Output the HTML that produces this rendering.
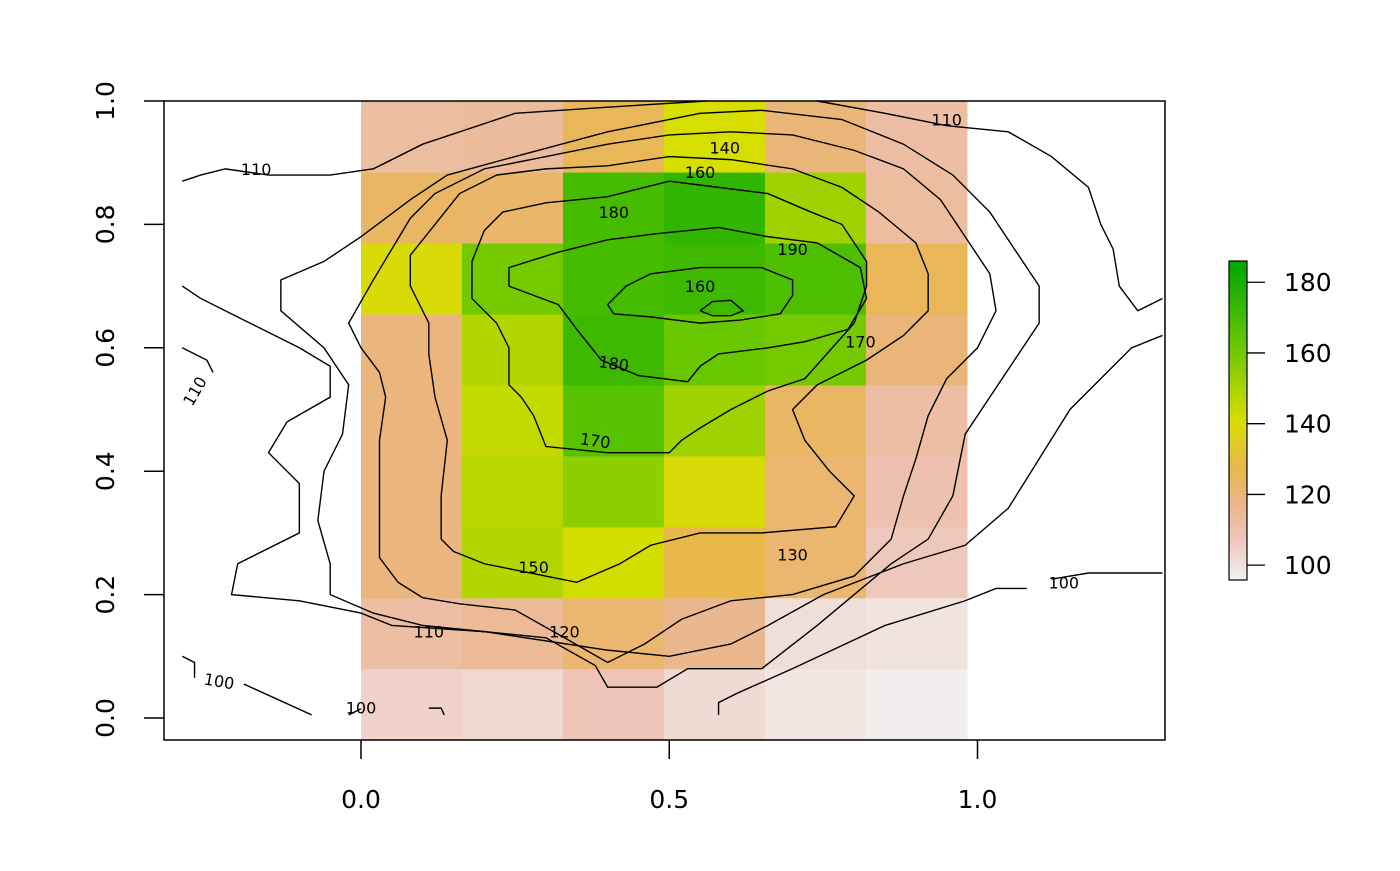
<!DOCTYPE html>
<html><head><meta charset="utf-8"><style>
body{margin:0;background:#fff}
svg text{font-family:"DejaVu Sans","Liberation Sans",sans-serif}
</style></head><body>
<svg id="chart" width="1400" height="866" viewBox="0 0 1400 866" xmlns="http://www.w3.org/2000/svg">
<g id="cells"></g>
<g id="contours"></g>
<g id="clabels"></g>
<rect x="164" y="101" width="1001" height="639" fill="none" stroke="#000" stroke-width="1.5"/>
<g id="axes"></g>
<g id="legend"></g>
</svg>
<script>
const xEdges=[0,0.1638,0.3276,0.4914,0.6552,0.819,0.983];
const yEdges=[-0.036,0.079,0.194,0.309,0.424,0.539,0.654,0.769,0.884,1.0];
// rows listed top (y=1) to bottom
const heatValues=[
[113,114,126,141,121,112],
[124,123,170,175,152,113],
[140,160,170,172,168,126],
[120,148,172,162,160,121],
[120,145,166,152,124,112],
[120,147,155,140,122,110],
[120,148,142,128,122,107],
[112,115,122,117,101,100],
[104,103,108,102,99,97]];
const xTicks=[0,0.5,1];
const xTickLabels=["0.0","0.5","1.0"];
const yTicks=[0,0.2,0.4,0.6,0.8,1];
const yTickLabels=["0.0","0.2","0.4","0.6","0.8","1.0"];
const legendTicks=[100,120,140,160,180];
const legendMin=95.8, legendMax=186;
const contourLines=[
[[0.55,0.66],[0.57,0.675],[0.60,0.677],[0.62,0.66],[0.60,0.652],[0.57,0.652],[0.55,0.66]],
[[0.40,0.67],[0.43,0.70],[0.47,0.72],[0.55,0.73],[0.65,0.73],[0.70,0.71],[0.70,0.685],[0.68,0.655],[0.615,0.645],[0.55,0.64],[0.47,0.65],[0.41,0.655],[0.40,0.67]],
[[0.24,0.70],[0.24,0.73],[0.32,0.755],[0.40,0.775],[0.48,0.785],[0.58,0.795],[0.66,0.78],[0.74,0.77],[0.81,0.73],[0.82,0.68],[0.79,0.63],[0.72,0.61],[0.66,0.60],[0.58,0.59],[0.55,0.57],[0.53,0.545],[0.45,0.555],[0.39,0.58],[0.35,0.63],[0.32,0.67],[0.24,0.70]],
[[0.24,0.60],[0.22,0.64],[0.18,0.68],[0.18,0.74],[0.20,0.79],[0.23,0.82],[0.30,0.835],[0.40,0.845],[0.50,0.87],[0.58,0.86],[0.66,0.85],[0.73,0.82],[0.78,0.80],[0.82,0.74],[0.82,0.70],[0.80,0.64],[0.72,0.55],[0.66,0.53],[0.60,0.50],[0.55,0.47],[0.52,0.45],[0.50,0.43],[0.45,0.43],[0.40,0.43],[0.30,0.44],[0.28,0.49],[0.26,0.52],[0.24,0.54],[0.24,0.60]],
[[0.13,0.29],[0.13,0.36],[0.14,0.45],[0.12,0.52],[0.11,0.59],[0.11,0.64],[0.08,0.70],[0.08,0.75],[0.12,0.80],[0.16,0.85],[0.22,0.88],[0.30,0.89],[0.40,0.895],[0.50,0.91],[0.60,0.905],[0.70,0.89],[0.78,0.86],[0.84,0.82],[0.90,0.77],[0.92,0.72],[0.92,0.66],[0.88,0.62],[0.82,0.58],[0.74,0.54],[0.70,0.50],[0.72,0.45],[0.76,0.40],[0.80,0.36],[0.77,0.31],[0.65,0.30],[0.55,0.30],[0.47,0.28],[0.42,0.25],[0.35,0.22],[0.25,0.24],[0.20,0.25],[0.15,0.27],[0.13,0.29]],
[[0.06,0.22],[0.03,0.26],[0.03,0.35],[0.03,0.45],[0.04,0.52],[0.03,0.56],[0.00,0.60],[-0.02,0.64],[0.02,0.71],[0.05,0.76],[0.08,0.81],[0.12,0.85],[0.20,0.89],[0.30,0.91],[0.40,0.93],[0.50,0.945],[0.60,0.95],[0.70,0.945],[0.80,0.92],[0.88,0.89],[0.94,0.84],[0.98,0.78],[1.02,0.72],[1.03,0.66],[1.00,0.60],[0.95,0.55],[0.92,0.49],[0.90,0.42],[0.88,0.36],[0.86,0.29],[0.80,0.23],[0.70,0.20],[0.60,0.19],[0.52,0.16],[0.46,0.12],[0.40,0.09],[0.33,0.13],[0.25,0.175],[0.16,0.185],[0.10,0.195],[0.06,0.22]],
[[-0.05,0.25],[-0.07,0.32],[-0.06,0.40],[-0.03,0.46],[-0.02,0.54],[-0.06,0.60],[-0.13,0.66],[-0.13,0.71],[-0.06,0.74],[0.00,0.78],[0.08,0.84],[0.14,0.88],[0.25,0.91],[0.40,0.95],[0.55,0.98],[0.65,0.985],[0.78,0.97],[0.88,0.93],[0.96,0.88],[1.02,0.82],[1.06,0.76],[1.10,0.70],[1.10,0.64],[1.06,0.58],[1.02,0.52],[0.98,0.46],[0.96,0.36],[0.92,0.29],[0.86,0.25],[0.80,0.20],[0.74,0.15],[0.65,0.08],[0.53,0.08],[0.48,0.05],[0.40,0.05],[0.38,0.085],[0.30,0.13],[0.20,0.14],[0.10,0.15],[0.02,0.17],[-0.05,0.20],[-0.05,0.25]],
[[-0.29,0.87],[-0.26,0.88],[-0.22,0.89],[-0.15,0.88],[-0.05,0.88],[0.02,0.89],[0.10,0.93],[0.25,0.98],[0.40,0.99],[0.56,1.0]],
[[0.74,1.0],[0.85,0.98],[0.95,0.96],[1.05,0.95],[1.12,0.91],[1.18,0.86],[1.20,0.80],[1.22,0.76],[1.23,0.70],[1.26,0.66],[1.30,0.68]],
[[-0.29,0.70],[-0.26,0.68],[-0.20,0.65],[-0.10,0.60],[-0.05,0.57],[-0.05,0.52],[-0.12,0.48],[-0.15,0.43],[-0.10,0.38],[-0.10,0.30],[-0.20,0.25],[-0.21,0.20],[-0.10,0.19],[0.00,0.17],[0.05,0.15],[0.20,0.14],[0.30,0.125],[0.40,0.11],[0.50,0.10],[0.60,0.12],[0.66,0.15],[0.75,0.20],[0.88,0.25],[0.98,0.28],[1.05,0.34],[1.10,0.42],[1.15,0.50],[1.20,0.55],[1.25,0.60],[1.30,0.62]],
[[-0.29,0.60],[-0.25,0.58],[-0.24,0.56]],
[[-0.29,0.10],[-0.27,0.09],[-0.27,0.065]],
[[-0.19,0.055],[-0.08,0.005]],
[[-0.02,0.005],[0.00,0.015]],
[[0.11,0.016],[0.13,0.016],[0.135,0.005]],
[[0.58,0.005],[0.58,0.025],[0.61,0.04],[0.70,0.08],[0.85,0.15],[0.98,0.19],[1.03,0.21],[1.08,0.21]],
[[1.12,0.225],[1.18,0.235],[1.30,0.235]]];
const contourLabelText=["190","160","170","180","180","170","160","150","140","130","120","110","110","110","110","100","100","100"];
const contourLabelPos=[[0.70,0.76],[0.55,0.70],[0.81,0.61],[0.41,0.82],[0.41,0.575],[0.38,0.45],[0.55,0.885],[0.28,0.245],[0.59,0.925],[0.70,0.265],[0.33,0.14],[0.11,0.14],[-0.17,0.89],[0.95,0.97],[-0.27,0.53],[-0.23,0.06],[0.0,0.017],[1.14,0.22]];
const contourLabelRot=[0,0,0,0,8,8,0,0,0,0,0,0,0,0,-60,10,0,0];

const NS="http://www.w3.org/2000/svg";
const X=v=>361+v*616.5, Y=v=>718-v*617;
const stops=[[96,[242,242,242]],[108,[238,196,182]],[118,[235,181,138]],[128,[232,184,74]],[141,[216,222,0]],[163,[100,198,0]],[186,[0,166,0]]];
function col(v){v=Math.max(96,Math.min(186,v));for(let i=1;i<stops.length;i++){if(v<=stops[i][0]){const a=stops[i-1],b=stops[i],t=(v-a[0])/(b[0]-a[0]);return 'rgb('+a[1].map((c,k)=>Math.round(c+(b[1][k]-c)*t)).join(',')+')';}}return 'rgb(0,166,0)';}
function mk(tag,attrs,parent){const e=document.createElementNS(NS,tag);for(const k in attrs)e.setAttribute(k,attrs[k]);parent.appendChild(e);return e;}
const cells=document.getElementById('cells');
heatValues.forEach((row,ri)=>row.forEach((v,ci)=>{
 const y0=yEdges[yEdges.length-1-ri], y1=yEdges[yEdges.length-2-ri];
 const r=mk('rect',{x:X(xEdges[ci]),y:Y(y0),width:X(xEdges[ci+1])-X(xEdges[ci])+0.5,height:Y(y1)-Y(y0)+0.5,fill:col(v)},cells);
 
 
}));
const cg=document.getElementById('contours');
contourLines.forEach(pts=>{
 const p=mk('polyline',{points:pts.map(q=>X(q[0])+','+Y(q[1])).join(' '),fill:'none',stroke:'#000','stroke-width':1.4},cg);
 
 
});
const lg=document.getElementById('clabels');
contourLabelText.forEach((t,i)=>{
 const x=X(contourLabelPos[i][0]),y=Y(contourLabelPos[i][1]);
 const g=mk('g',{transform:`translate(${x},${y}) rotate(${contourLabelRot[i]})`},lg);
 const tx=mk('text',{x:0,y:6,'text-anchor':'middle','font-size':16},g);
 tx.textContent=t;
 
 
});
const ax=document.getElementById('axes');
xTicks.forEach((v,i)=>{
 mk('line',{x1:X(v),x2:X(v),y1:740,y2:759,stroke:'#000','stroke-width':1.5},ax);
 const t=mk('text',{x:X(v),y:808,'text-anchor':'middle','font-size':25},ax);
 t.textContent=xTickLabels[i];
 
 
});
yTicks.forEach((v,i)=>{
 mk('line',{x1:144,x2:164,y1:Y(v),y2:Y(v),stroke:'#000','stroke-width':1.5},ax);
 const t=mk('text',{x:0,y:0,'text-anchor':'middle','font-size':25,transform:`translate(114,${Y(v)}) rotate(-90)`},ax);
 t.textContent=yTickLabels[i];
 
 
});
const lgd=document.getElementById('legend');
const LY=v=>580-(v-legendMin)/(legendMax-legendMin)*319;
for(let k=0;k<90;k++){
 const v0=legendMin+(legendMax-legendMin)*k/90, v1=legendMin+(legendMax-legendMin)*(k+1)/90;
 const r=mk('rect',{x:1229,y:LY(v1),width:18,height:LY(v0)-LY(v1)+0.6,fill:col((v0+v1)/2)},lgd);
 
 
}
mk('rect',{x:1229,y:261,width:18,height:319,fill:'none',stroke:'#000','stroke-width':1.2},lgd);
legendTicks.forEach(v=>{
 mk('line',{x1:1247,x2:1265,y1:LY(v),y2:LY(v),stroke:'#000','stroke-width':1.3},lgd);
 const t=mk('text',{x:1284,y:LY(v)+9,'font-size':25},lgd);
 t.textContent=String(v);
 
 
});
</script>
</body></html>
